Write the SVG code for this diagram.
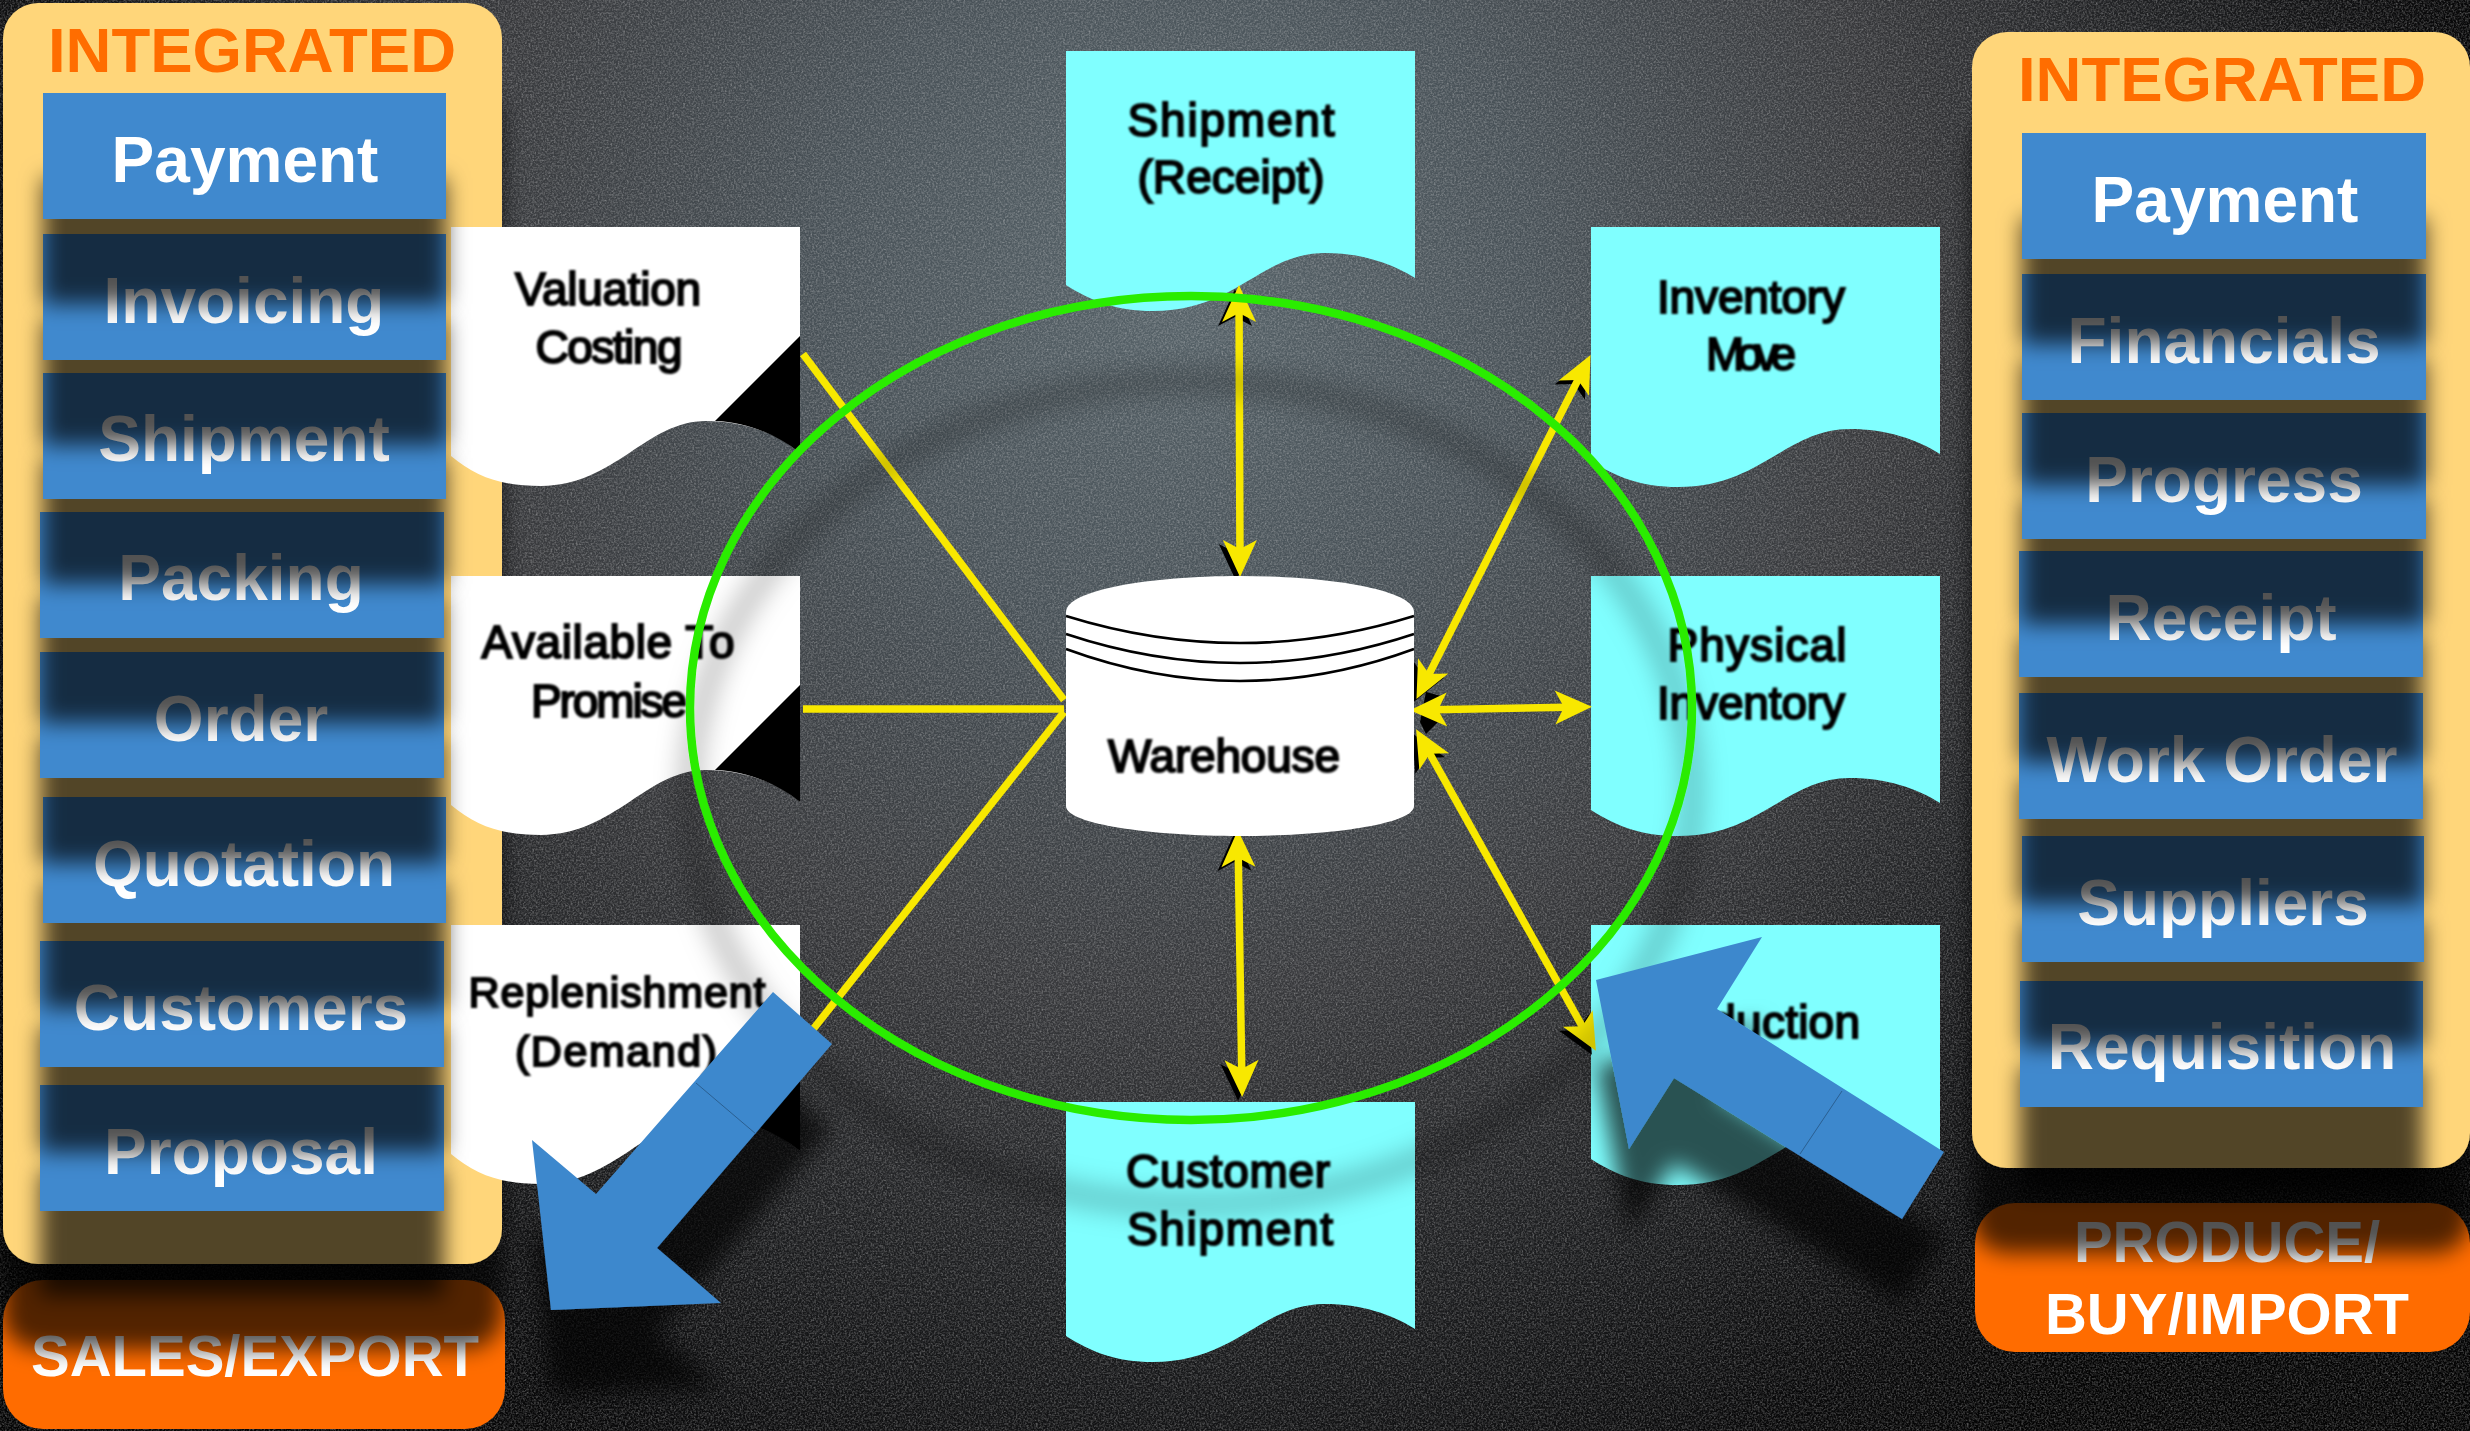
<svg xmlns="http://www.w3.org/2000/svg" xmlns:xlink="http://www.w3.org/1999/xlink" width="2470" height="1431" viewBox="0 0 2470 1431">
<style>
.btn rect{fill:#3f89ce}
.btn text,.org text{font-family:"Liberation Sans",Arial,sans-serif;font-weight:700;fill:#fff;text-anchor:middle}
.btn text{font-size:64px}
.org text{font-size:58px}
.int{font-family:"Liberation Sans",Arial,sans-serif;font-weight:700;font-size:63.5px;fill:#ff6d00;text-anchor:middle}
.sh{filter:url(#ds)}
.pn{fill:#ffd67a}
.or{fill:#ff6c00}
.dt{font-family:"Liberation Sans",Arial,sans-serif;font-size:46px;fill:#000;stroke:#000;stroke-width:2;text-anchor:middle;filter:url(#soft)}
.cn{fill:none;stroke:#f8e800;stroke-width:7.5}
.cns{fill:none;stroke:none}
.wl{fill:none;stroke:#000;stroke-width:2.6}
.blue{fill:#3e88cd}
.seam{stroke:#2a5f91;stroke-width:1;fill:none}
</style>
<defs>
<radialGradient id="bg" gradientUnits="userSpaceOnUse" cx="1180" cy="280" r="1420">
<stop offset="0" stop-color="#58646a"/><stop offset=".25" stop-color="#495258"/><stop offset=".5" stop-color="#38393c"/><stop offset=".72" stop-color="#1d1e20"/><stop offset=".9" stop-color="#09090a"/><stop offset="1" stop-color="#040404"/>
</radialGradient>
<filter id="ds" filterUnits="userSpaceOnUse" x="0" y="0" width="2470" height="1431"><feDropShadow dx="0" dy="85" stdDeviation="11" flood-color="#000" flood-opacity=".68"/></filter>
<filter id="ds2" filterUnits="userSpaceOnUse" x="0" y="0" width="2470" height="1431"><feDropShadow dx="0" dy="85" stdDeviation="14" flood-color="#000" flood-opacity=".6"/></filter>
<filter id="soft" x="-5%" y="-20%" width="110%" height="140%"><feGaussianBlur stdDeviation=".9"/></filter>
<filter id="noise" filterUnits="userSpaceOnUse" x="0" y="0" width="2470" height="1431"><feTurbulence type="fractalNoise" baseFrequency=".55" numOctaves="2" seed="4"/><feColorMatrix values="0 0 0 0 .75  0 0 0 0 .75  0 0 0 0 .75  .5 .5 0 0 -.42"/></filter>
<path id="docW" d="M0,0H349V226C325,205 290,194 255,194C195,194 165,258 90,259C50,259 25,250 0,229Z" fill="#fff"/>
<path id="docB" d="M349,109L264,194C296,195 325,207 349,226Z" fill="#000"/>
<path id="docC" d="M0,0H349V227C325,212 295,202 259,202C195,202 170,260 87,260C50,260 25,250 0,234Z" fill="#80ffff"/>
<marker id="ah" markerUnits="userSpaceOnUse" viewBox="-30 -20 42 40" refX="0" refY="0" markerWidth="42" markerHeight="40" orient="auto-start-reverse"><path d="M10,0L-27,-17L-18,0L-27,17Z" fill="#f8e800"/></marker>
<marker id="ak" markerUnits="userSpaceOnUse" viewBox="-30 -20 42 40" refX="0" refY="0" markerWidth="42" markerHeight="40" orient="auto-start-reverse"><path d="M10,0L-27,-17L-18,0L-27,17Z" fill="#000"/></marker>
</defs>
<rect id="background" width="2470" height="1431" fill="url(#bg)"/>
<rect id="grain" width="2470" height="1431" filter="url(#noise)"/>

<g id="box-sales" class="org"><rect class="or" x="3" y="1280" width="502" height="149" rx="40"/><text x="255" y="1376">SALES/EXPORT</text></g>
<g id="box-produce" class="org"><rect class="or" x="1975" y="1203" width="495" height="149" rx="40"/><text x="2227" y="1262">PRODUCE/</text><text x="2227" y="1334">BUY/IMPORT</text></g>

<g id="panel-left" class="sh"><rect class="pn" x="3" y="3" width="499" height="1261" rx="35"/><text class="int" x="252" y="72">INTEGRATED</text></g>
<g id="panel-right" class="sh"><rect class="pn" x="1972" y="32" width="498" height="1136" rx="35"/><text class="int" x="2222" y="101">INTEGRATED</text></g>

<g id="doc-valuation" transform="translate(451,227)"><use href="#docW"/><use href="#docB"/></g>
<text class="dt" x="608" y="305" textLength="186">Valuation</text><text class="dt" x="609" y="363" textLength="147">Costing</text>
<g id="doc-atp" transform="translate(451,576)"><use href="#docW"/><use href="#docB"/></g>
<text class="dt" x="608" y="658" textLength="253">Available To</text><text class="dt" x="609" y="717" textLength="156">Promise</text>
<g id="doc-replenishment" transform="translate(451,925)"><use href="#docW"/><use href="#docB"/></g>
<text class="dt" x="617" y="1007" textLength="297" style="font-size:43px">Replenishment</text><text class="dt" x="616" y="1066" textLength="202" style="font-size:43px">(Demand)</text>
<g id="doc-receipt" transform="translate(1066,51)"><use href="#docC"/></g>
<text class="dt" x="1231" y="136" textLength="207">Shipment</text><text class="dt" x="1231" y="193" textLength="187">(Receipt)</text>
<g id="doc-move" transform="translate(1591,227)"><use href="#docC"/></g>
<text class="dt" x="1751" y="313" textLength="188">Inventory</text><text class="dt" x="1751" y="370" textLength="90">Move</text>
<g id="doc-physical" transform="translate(1591,576)"><use href="#docC"/></g>
<text class="dt" x="1757" y="661" textLength="179">Physical</text><text class="dt" x="1751" y="719" textLength="188">Inventory</text>
<g id="doc-production" transform="translate(1591,925)"><use href="#docC"/></g>
<text class="dt" x="1749" y="1038" textLength="222">Production</text>
<g id="doc-customer" transform="translate(1066,1102)"><use href="#docC"/></g>
<text class="dt" x="1228" y="1187" textLength="204">Customer</text><text class="dt" x="1230" y="1245" textLength="206">Shipment</text>

<g id="connectors">
<path d="M1426,692L1441,696L1438,722L1426,734L1420,722Z" fill="#000"/>
<g transform="translate(-4,4)">
<path class="cns" d="M1239,295L1240,567" marker-start="url(#ak)" marker-end="url(#ak)"/>
<path class="cns" d="M1238,840L1242,1087" marker-start="url(#ak)" marker-end="url(#ak)"/>
<path class="cns" d="M1586,364L1421,690" marker-start="url(#ak)" marker-end="url(#ak)"/>
<path class="cns" d="M1591,1042L1421,738" marker-start="url(#ak)" marker-end="url(#ak)"/>
</g>
<path class="cn" d="M803,354L1064,700"/>
<path class="cn" d="M803,709L1064,709"/>
<path class="cn" d="M1064,712L803,1042"/>
<path class="cn" d="M1239,295L1240,567" marker-start="url(#ah)" marker-end="url(#ah)"/>
<path class="cn" d="M1238,840L1242,1087" marker-start="url(#ah)" marker-end="url(#ah)"/>
<path class="cn" d="M1420,710L1582,707" marker-start="url(#ah)" marker-end="url(#ah)"/>
<path class="cn" d="M1586,364L1421,690" marker-start="url(#ah)" marker-end="url(#ah)"/>
<path class="cn" d="M1591,1042L1421,738" marker-start="url(#ah)" marker-end="url(#ah)"/>
</g>

<g id="ring" style="filter:url(#ds2)"><ellipse cx="1191" cy="708" rx="501" ry="412" fill="none" stroke="#2bec00" stroke-width="8.5"/></g>

<g id="warehouse">
<path d="M1066,612C1066,590 1150,576 1240,576C1330,576 1414,590 1414,612V806C1414,824 1330,836 1240,836C1150,836 1066,824 1066,806Z" fill="#fff"/>
<path class="wl" d="M1066,616Q1240,670 1414,616"/><path class="wl" d="M1066,634Q1240,692 1414,634"/><path class="wl" d="M1066,649Q1240,713 1414,649"/>
<text class="dt" x="1224" y="772" textLength="232">Warehouse</text>
</g>

<g id="buttons-left">
<g id="l-proposal" class="btn sh"><rect x="40" y="1085" width="404" height="126"/><text x="241" y="1174">Proposal</text></g>
<g id="l-customers" class="btn sh"><rect x="40" y="941" width="404" height="126"/><text x="241" y="1030">Customers</text></g>
<g id="l-quotation" class="btn sh"><rect x="43" y="797" width="403" height="126"/><text x="244" y="886">Quotation</text></g>
<g id="l-order" class="btn sh"><rect x="40" y="652" width="404" height="126"/><text x="241" y="741">Order</text></g>
<g id="l-packing" class="btn sh"><rect x="40" y="512" width="404" height="126"/><text x="241" y="600">Packing</text></g>
<g id="l-shipment" class="btn sh"><rect x="43" y="373" width="403" height="126"/><text x="244" y="461">Shipment</text></g>
<g id="l-invoicing" class="btn sh"><rect x="43" y="234" width="403" height="126"/><text x="244" y="323">Invoicing</text></g>
<g id="l-payment" class="btn sh"><rect x="43" y="93" width="403" height="126"/><text x="245" y="182">Payment</text></g>
</g>
<g id="buttons-right">
<g id="r-requisition" class="btn sh"><rect x="2020" y="981" width="403" height="126"/><text x="2222" y="1069">Requisition</text></g>
<g id="r-suppliers" class="btn sh"><rect x="2022" y="836" width="402" height="126"/><text x="2223" y="925">Suppliers</text></g>
<g id="r-workorder" class="btn sh"><rect x="2019" y="693" width="404" height="126"/><text x="2222" y="782">Work Order</text></g>
<g id="r-receipt" class="btn sh"><rect x="2019" y="551" width="404" height="126"/><text x="2221" y="640">Receipt</text></g>
<g id="r-progress" class="btn sh"><rect x="2022" y="413" width="404" height="126"/><text x="2224" y="502">Progress</text></g>
<g id="r-financials" class="btn sh"><rect x="2022" y="274" width="404" height="126"/><text x="2224" y="363">Financials</text></g>
<g id="r-payment" class="btn sh"><rect x="2022" y="133" width="404" height="126"/><text x="2225" y="222">Payment</text></g>
</g>

<g id="arrow-out" class="sh"><path class="blue" d="M773,992L832,1044L657,1248L721,1303L551,1310L532,1140L596,1194Z"/></g>
<path class="seam" d="M696,1083L756,1134"/>
<g id="arrow-in" class="sh"><path class="blue" d="M1596,980L1762,937L1717,1009L1944,1152L1902,1219L1674,1078L1629,1149Z"/></g>
<path class="seam" d="M1842,1091L1800,1154"/>
</svg>
